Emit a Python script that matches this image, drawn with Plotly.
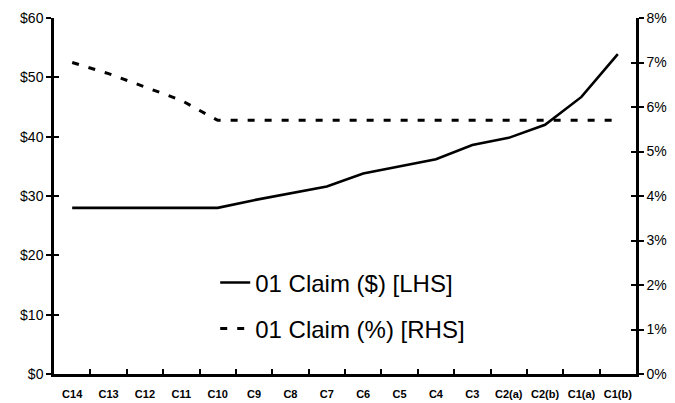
import plotly.graph_objects as go

categories = ["C14", "C13", "C12", "C11", "C10", "C9", "C8", "C7", "C6", "C5",
              "C4", "C3", "C2(a)", "C2(b)", "C1(a)", "C1(b)"]
claim_dollars = [28.0, 28.0, 28.0, 28.0, 28.0, 29.3, 30.5, 31.6, 33.8, 35.0,
                 36.2, 38.6, 39.8, 42.0, 46.7, 53.9]
claim_pct = [7.0, 6.75, 6.45, 6.15, 5.7, 5.7, 5.7, 5.7, 5.7, 5.7,
             5.7, 5.7, 5.7, 5.7, 5.7, 5.7]
left_ticks = [0, 10, 20, 30, 40, 50, 60]
left_labels = ["$0", "$10", "$20", "$30", "$40", "$50", "$60"]
right_ticks = [0, 1, 2, 3, 4, 5, 6, 7, 8]
right_labels = ["0%", "1%", "2%", "3%", "4%", "5%", "6%", "7%", "8%"]

FONT = "Liberation Sans, Arial, sans-serif"

fig = go.Figure()
fig.add_trace(go.Scatter(x=categories, y=claim_dollars, mode="lines",
                         name="01 Claim ($) [LHS]",
                         line=dict(color="black", width=2.6),
                         yaxis="y", legend="legend"))
fig.add_trace(go.Scatter(x=categories, y=[v / 100 for v in claim_pct], mode="lines",
                         name="01 Claim (%) [RHS]",
                         line=dict(color="black", width=3, dash="7px,10px"),
                         yaxis="y2", legend="legend2"))

common = dict(showgrid=False, zeroline=False, automargin=False)
fig.update_layout(
    width=675, height=403,
    margin=dict(l=54, r=39, t=18, b=29),
    paper_bgcolor="white", plot_bgcolor="white",
    font=dict(family=FONT, color="black"),
    xaxis=dict(type="category", range=[-0.5, 15.5], tickson="boundaries",
               ticks="inside", ticklen=5, tickwidth=2, tickcolor="black",
               showline=True, linecolor="black", linewidth=2.5,
               tickangle=0, ticklabelstandoff=8,
               tickfont=dict(size=11, family="Liberation Sans, Arial", weight="bold"),
               **common),
    yaxis=dict(range=[0, 60], tickvals=left_ticks, ticktext=left_labels,
               ticks="outside", ticklen=5, tickwidth=2, tickcolor="black",
               showline=True, linecolor="black", linewidth=2.5,
               tickfont=dict(size=14), **common),
    yaxis2=dict(range=[0, 0.08], tickvals=[v / 100 for v in right_ticks], ticktext=right_labels,
                overlaying="y", side="right",
                ticks="outside", ticklen=5, tickwidth=2, tickcolor="black",
                showline=True, linecolor="black", linewidth=2.5,
                tickfont=dict(size=14), **common),
    yaxis3=dict(range=[0, 60], tickvals=left_ticks, overlaying="y", side="left",
                ticks="inside", ticklen=5, tickwidth=2, tickcolor="black",
                showticklabels=False, showline=False, **common),
    yaxis4=dict(range=[0, 8], tickvals=right_ticks, overlaying="y", side="right",
                ticks="inside", ticklen=5, tickwidth=2, tickcolor="black",
                showticklabels=False, showline=False, **common),
    legend=dict(x=0.277, y=0.256, xanchor="left", yanchor="middle",
                font=dict(size=24), bgcolor="rgba(0,0,0,0)", itemwidth=30),
    legend2=dict(x=0.277, y=0.127, xanchor="left", yanchor="middle",
                 font=dict(size=24), bgcolor="rgba(0,0,0,0)", itemwidth=30),
)
fig.add_trace(go.Scatter(x=[categories[0]], y=[None], yaxis="y3", showlegend=False, hoverinfo="skip"))
fig.add_trace(go.Scatter(x=[categories[0]], y=[None], yaxis="y4", showlegend=False, hoverinfo="skip"))

fig.write_html("out.html", config={"displayModeBar": False},
               post_script="document.body.style.margin='0';")
